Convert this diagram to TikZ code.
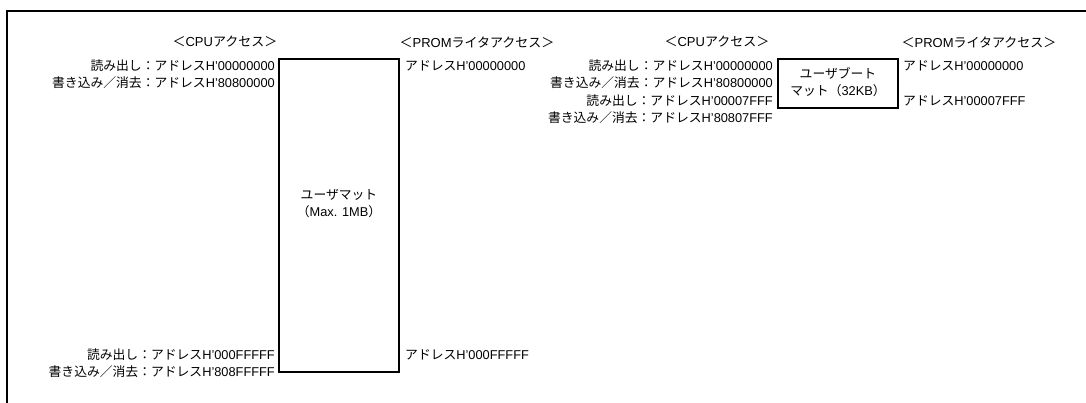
\documentclass[tikz,border=0pt]{standalone}
\usepackage{fontspec}
\setmainfont{Liberation Sans}
\newfontfamily\jpfont{Noto Sans CJK JP}
\newcommand\J[1]{{\jpfont #1}}
\begin{document}
\begin{tikzpicture}[x=1pt,y=-1pt,
  box/.style={draw, line width=2pt, inner sep=0pt, anchor=north west},
  rlab/.style={anchor=east, inner sep=0pt, font=\fontsize{12.8}{14}\selectfont},
  llab/.style={anchor=west, inner sep=0pt, font=\fontsize{12.8}{14}\selectfont},
  head/.style={anchor=center, inner sep=0pt, font=\fontsize{13}{14}\selectfont},
  intext/.style={align=center, inner sep=0pt, font=\fontsize{12.8}{17}\selectfont}]
\useasboundingbox (0,0) rectangle (1086,403);
\coordinate (fb) at (7,403);
\coordinate (fr) at (1086,11);
\draw[line width=2.2pt] (fb) |- (fr);
% left part
\node[head] (h1) at (225,42) {\J{＜}CPU\J{アクセス＞}};
\node[head] (h2) at (477,42) {\J{＜}PROM\J{ライタアクセス＞}};
\node[box, minimum width=120pt, minimum height=313pt] (um) at (278,58) {};
\node[intext] (umt) at (um.center) [yshift=12pt] {\J{ユーザマット}\\\J{（}Max. 1MB\J{）}};
\node[rlab] (a1) at (275,66) {\J{読み出し：アドレス}H'00000000};
\node[rlab] (a2) at (275,83) {\J{書き込み／消去：アドレス}H'80800000};
\node[rlab] (a3) at (275,355) {\J{読み出し：アドレス}H'000FFFFF};
\node[rlab] (a4) at (275,372) {\J{書き込み／消去：アドレス}H'808FFFFF};
\node[llab] (p1) at (405,66) {\J{アドレス}H'00000000};
\node[llab] (p2) at (405,355) {\J{アドレス}H'000FFFFF};
% right part
\node[head] (h3) at (717,42) {\J{＜}CPU\J{アクセス＞}};
\node[head] (h4) at (979,42) {\J{＜}PROM\J{ライタアクセス＞}};
\node[box, minimum width=120pt, minimum height=49pt] (ub) at (777,58) {};
\node[intext] (ubt) at (ub.center) [yshift=1pt] {\J{ユーザブート}\\\J{マット（}32KB\J{）}};
\node[rlab] (b1) at (773,66) {\J{読み出し：アドレス}H'00000000};
\node[rlab] (b2) at (773,83) {\J{書き込み／消去：アドレス}H'80800000};
\node[rlab] (b3) at (773,101) {\J{読み出し：アドレス}H'00007FFF};
\node[rlab] (b4) at (773,118) {\J{書き込み／消去：アドレス}H'80807FFF};
\node[llab] (q1) at (903,66) {\J{アドレス}H'00000000};
\node[llab] (q2) at (903,101) {\J{アドレス}H'00007FFF};
\end{tikzpicture}
\end{document}
